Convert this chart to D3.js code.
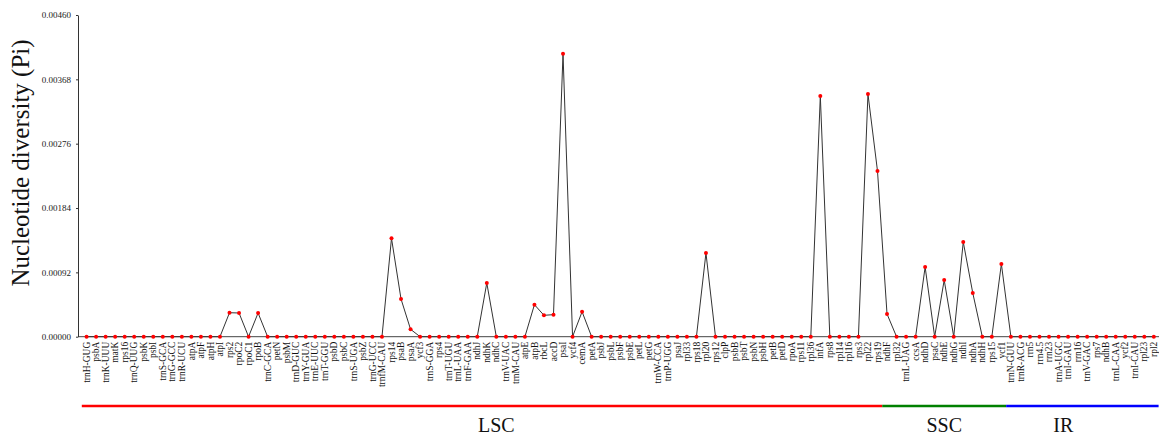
<!DOCTYPE html>
<html><head><meta charset="utf-8">
<script src="https://cdn.jsdelivr.net/npm/d3@7"></script>
<style>
html,body{margin:0;padding:0;background:#fff;}
svg{display:block;}
</style></head>
<body>
<script>
const genes = ["trnH-GUG","psbA","trnK-UUU","matK","rps16","trnQ-UUG","psbK","psbI","trnS-GCA","trnG-GCC","trnR-UCU","atpA","atpF","atpH","atpI","rps2","rpoC2","rpoC1","rpoB","trnC-GCA","petN","psbM","trnD-GUC","trnY-GUA","trnE-UUC","trnT-GGU","psbD","psbC","trnS-UGA","psbZ","trnG-UCC","trnfM-CAU","rps14","psaB","psaA","ycf3","trnS-GGA","rps4","trnT-UGU","trnL-UAA","trnF-GAA","ndhJ","ndhK","ndhC","trnV-UAC","trnM-CAU","atpE","atpB","rbcL","accD","psaI","ycf4","cemA","petA","psbJ","psbL","psbF","psbE","petL","petG","trnW-CCA","trnP-UGG","psaJ","rpl33","rps18","rpl20","rps12","clpP","psbB","psbT","psbN","psbH","petB","petD","rpoA","rps11","rpl36","infA","rps8","rpl14","rpl16","rps3","rpl22","rps19","ndhF","rpl32","trnL-UAG","ccsA","ndhD","psaC","ndhE","ndhG","ndhI","ndhA","ndhH","rps15","ycf1","trnN-GUU","trnR-ACG","rrn5","rrn4.5","rrn23","trnA-UGC","trnI-GAU","rrn16","trnV-GAC","rps7","ndhB","trnL-CAA","ycf2","trnI-CAU","rpl23","rpl2"];

// nucleotide diversity (Pi); genes not listed are 0
const piGenes  = ["rps2","rpoC2","rpoB","rps14","psaB","psaA","ndhK","atpB","rbcL","accD","psaI","cemA","rpl20","infA","rpl22","rps19","ndhF","ndhD","ndhE","ndhI","ndhA","ycf1"];
const piValues = [0.000343,0.000339,0.000339,0.001407,0.000539,0.000106,0.000768,0.000458,0.000306,0.000315,0.004047,0.000357,0.001197,0.003442,0.003470,0.002370,0.000325,0.000997,0.000810,0.001354,0.000625,0.001040];

const yTicks = [0,0.00092,0.00184,0.00276,0.00368,0.00460];

const regionNames = ["LSC","SSC","IR"];
const regionStart = ["trnH-GUG","ndhF","trnN-GUU"];
const regionEnd   = ["rps19","ycf1","rpl2"];
const regionLabelGene = ["ndhC","ndhE","trnI-GAU"];
const regionColors = ["#ff0000","#008000","#0000ff"];

const piMap = new Map(piGenes.map((g,i)=>[g,piValues[i]]));
const data = genes.map(g=>({gene:g, pi: piMap.has(g)?piMap.get(g):0}));

const W=1159,H=438;
const serif = "'Liberation Serif','Times New Roman',serif";
const svg = d3.select("body").append("svg").attr("width",W).attr("height",H);

const x = d3.scaleBand().domain(genes).range([81.8,1158.6]).padding(0);
const cx = g => x(g)+x.bandwidth()/2;
const y = d3.scaleLinear().domain([0,0.0046]).range([336.7,15]);

// x baseline
svg.append("line").attr("x1",78).attr("x2",W).attr("y1",y(0)).attr("y2",y(0))
  .attr("stroke","#444").attr("stroke-width",1);

// y axis
const ya = svg.append("g").attr("transform","translate(78,0)")
  .call(d3.axisLeft(y).tickValues(yTicks).tickFormat(d3.format(".5f")).tickSizeInner(2).tickSizeOuter(0).tickPadding(5));
ya.select(".domain").attr("stroke","#333");
ya.selectAll(".tick line").attr("stroke","#333");
ya.selectAll("text").attr("font-family",serif).attr("font-size","9px").attr("fill","#222");

// x axis labels
const xa = svg.append("g").attr("transform",`translate(0,${y(0)})`)
  .call(d3.axisBottom(x).tickSize(0).tickPadding(0));
xa.select(".domain").remove();
xa.selectAll("text")
  .attr("font-family",serif).attr("font-size","9.5px").attr("fill","#111")
  .attr("transform","rotate(-90)").attr("x",-5).attr("y",0).attr("dy","0.33em").style("text-anchor","end");

// line
const line = d3.line().x(d=>cx(d.gene)).y(d=>y(d.pi));
svg.append("path").datum(data).attr("d",line).attr("fill","none").attr("stroke","#333").attr("stroke-width",1);

// dots
svg.selectAll("circle.pt").data(data).enter().append("circle").attr("class","pt")
  .attr("cx",d=>cx(d.gene)).attr("cy",d=>y(d.pi)).attr("r",2).attr("fill","#ff0000");

// y title
svg.append("text").attr("transform","translate(29,163) rotate(-90)")
  .attr("text-anchor","middle").attr("font-family",serif)
  .attr("font-size","25px").attr("fill","#111").text("Nucleotide diversity (Pi)");

// region bars
regionNames.forEach((r,i)=>{
  const x1 = x(regionStart[i]);
  const x2 = Math.min(x(regionEnd[i])+x.bandwidth(), W);
  svg.append("line").attr("x1",x1).attr("x2",x2).attr("y1",406).attr("y2",406)
    .attr("stroke",regionColors[i]).attr("stroke-width",2.5);
  const lx = i===2 ? x(regionLabelGene[i]) : cx(regionLabelGene[i]);
  svg.append("text").attr("x",lx).attr("y",432).attr("text-anchor","middle")
    .attr("font-family",serif).attr("font-size","20px").attr("fill","#111").text(r);
});
</script>
</body></html>
